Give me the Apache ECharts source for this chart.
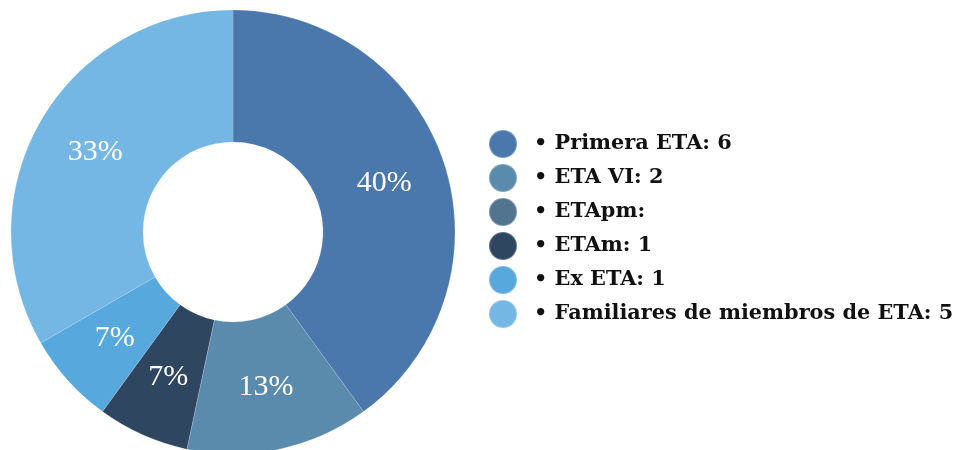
<!DOCTYPE html>
<html>
<head>
<meta charset="utf-8">
<script src="https://cdn.jsdelivr.net/npm/echarts@6/dist/echarts.min.js"></script>
<style>
  html, body { margin: 0; padding: 0; background: #fff; }
  #chart { width: 957px; height: 450px; }
</style>
</head>
<body>
<div id="chart"></div>
<script>
// categories and counts (ETApm has no number)
const categories = ["Primera ETA", "ETA VI", "ETApm", "ETAm", "Ex ETA", "Familiares de miembros de ETA"];
const counts = [6, 2, null, 1, 1, 5];
const colors = ["#4a78ad", "#5a8bad", "#53748f", "#2f4661", "#57a9dd", "#74b6e4"];

const chart = echarts.init(document.getElementById("chart"));

const data = categories.map((name, i) => ({
  name: name,
  value: counts[i] == null ? 0 : counts[i],
  itemStyle: { color: colors[i] },
  label: { show: !!counts[i] },
}));

chart.setOption({
  animation: false,
  legend: {
    orient: "vertical",
    left: 483,
    top: 124,
    icon: "circle",
    itemWidth: 28,
    itemHeight: 28,
    itemGap: 4,
    selectedMode: false,
    textStyle: {
      fontFamily: "DejaVu Serif",
      fontWeight: "bold",
      fontSize: 20.8,
      lineHeight: 28,
      color: "#111",
      padding: [0, 0, 0, 12],
    },
    formatter: function (name) {
      const i = categories.indexOf(name);
      return "\u2022 " + name + ": " + (counts[i] == null ? "" : counts[i]);
    },
  },
  series: [
    {
      type: "pie",
      center: [233, 232],
      radius: [90, 222],
      startAngle: 90,
      clockwise: true,
      percentPrecision: 0,
      avoidLabelOverlap: false,
      itemStyle: {
        borderColor: "rgba(255,255,255,0.25)",
        borderWidth: 0.5,
      },
      label: {
        position: "inside",
        formatter: "{d}%",
        color: "#fff",
        fontFamily: "Liberation Serif",
        fontSize: 30,
      },
      labelLine: { show: false },
      emphasis: { disabled: true },
      data: data,
    },
  ],
});
</script>
</body>
</html>
